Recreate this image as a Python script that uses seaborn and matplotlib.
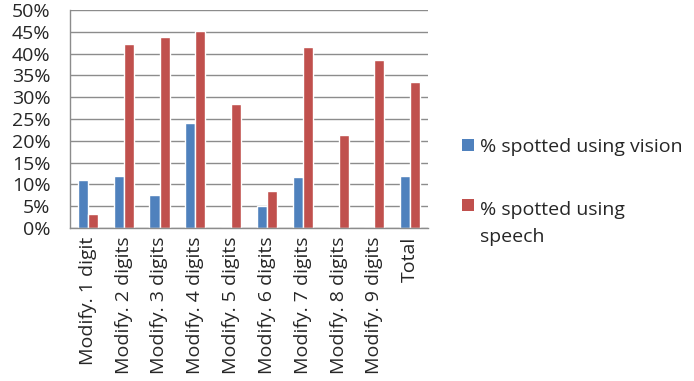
import matplotlib
matplotlib.use("Agg")
import matplotlib.pyplot as plt
from matplotlib.patches import Patch, Rectangle
from matplotlib.legend_handler import HandlerPatch
from matplotlib.ticker import FuncFormatter, FixedLocator
import seaborn as sns
import pandas as pd

categories = ["Modify. 1 digit", "Modify. 2 digits", "Modify. 3 digits", "Modify. 4 digits",
              "Modify. 5 digits", "Modify. 6 digits", "Modify. 7 digits", "Modify. 8 digits",
              "Modify. 9 digits", "Total"]
vision = [0.110, 0.119, 0.076, 0.240, 0.0, 0.050, 0.116, 0.0, 0.0, 0.119]
speech = [0.031, 0.421, 0.438, 0.451, 0.284, 0.084, 0.415, 0.214, 0.385, 0.335]
series = ["% spotted using vision", "% spotted using speech"]
legend_labels = ["% spotted using vision", "% spotted using\nspeech"]
colors = ["#4F81BD", "#C0504D"]

df = pd.DataFrame({
    "category": categories * 2,
    "value": vision + speech,
    "series": [series[0]] * len(categories) + [series[1]] * len(categories),
})

sns.set_style("white")
plt.rcParams["font.family"] = ["Open Sans", "DejaVu Sans"]
FS = 14
LINESPACING = 1.65

fig = plt.figure(figsize=(6.94, 3.81), dpi=100)
ax = fig.add_axes([70 / 694, 1 - 228 / 381, (428 - 70) / 694, (228 - 10) / 381])

sns.barplot(data=df, x="category", y="value", hue="series", order=categories,
            hue_order=series, palette=colors, width=0.56, gap=0, saturation=1,
            legend=False, ax=ax)

ax.set_ylim(0, 0.5)
ax.set_xlim(-0.5, len(categories) - 0.5)
ax.set_yticks([i * 0.05 for i in range(11)])
ax.yaxis.set_major_formatter(FuncFormatter(lambda v, _: f"{round(v * 100)}%"))
ax.grid(axis="y", color="#8c8c8c", linewidth=1)
ax.set_axisbelow(True)

for side in ["top", "right"]:
    ax.spines[side].set_visible(False)
for side in ["left", "bottom"]:
    ax.spines[side].set_color("#8c8c8c")
    ax.spines[side].set_linewidth(1)

ax.tick_params(axis="y", which="major", length=5, color="#8c8c8c", labelsize=FS, pad=9)
ax.tick_params(axis="x", which="major", length=0, labelsize=FS, pad=6, labelrotation=90)
ax.xaxis.set_minor_locator(FixedLocator([i - 0.5 for i in range(len(categories) + 1)]))
ax.tick_params(axis="x", which="minor", length=5, color="#8c8c8c", direction="out")
ax.set_xlabel("")
ax.set_ylabel("")


def top_line_square(n_lines):
    # square marker aligned with the first line of a (possibly wrapped) label
    def make(legend, orig_handle, xdescent, ydescent, width, height, fontsize):
        shift = (n_lines - 1) * 0.5 * fontsize * LINESPACING * 1.15
        return Rectangle((-xdescent, -ydescent + shift), width, height)
    return HandlerPatch(patch_func=make)


handles = [Patch(facecolor=c, edgecolor="none") for c in colors]
handler_map = {h: top_line_square(lab.count("\n") + 1) for h, lab in zip(handles, legend_labels)}
leg = fig.legend(handles, legend_labels, loc="upper left",
                 bbox_to_anchor=(462 / 694, 1 - 138 / 381), handler_map=handler_map,
                 frameon=False, fontsize=FS, handlelength=0.62, handleheight=0.62,
                 handletextpad=0.3, labelspacing=2.3, borderaxespad=0, borderpad=0)
for t in leg.get_texts():
    t.set_linespacing(LINESPACING)

fig.savefig("out.png", dpi=100)
